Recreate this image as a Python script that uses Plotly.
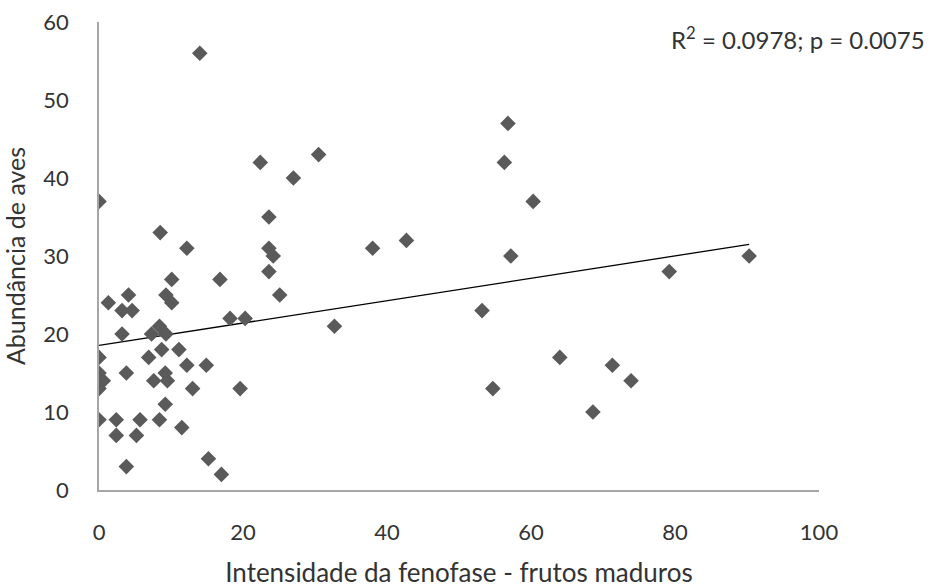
import numpy as np
import plotly.graph_objects as go

# Intensidade da fenofase (frutos maduros) vs. abundância de aves
intensidade = [
    0, 0, 0, 0.6, 0, 0, 1.3, 4.1, 3.2, 4.6, 3.2, 3.8, 2.4, 2.4, 3.8,
    5.7, 5.2, 6.9, 7.3, 8.4, 9.3, 8.7, 7.6, 9.2, 9.5, 9.2, 8.4, 8.5,
    9.3, 10.1, 10.1, 11.1, 11.5, 12.2, 12.2, 13.0, 14.0, 14.9, 15.2,
    16.8, 17.0, 18.2, 19.6, 20.3, 22.4, 23.6, 23.6, 24.2, 23.6, 25.1,
    27.0, 30.5, 32.7, 38.0, 42.7, 53.2, 54.7, 56.3, 56.8, 57.2, 60.3,
    64.0, 68.6, 71.3, 73.9, 79.2, 90.3,
]
abundancia = [
    37, 17, 15, 14, 13, 9, 24, 25, 23, 23, 20, 15, 9, 7, 3,
    9, 7, 17, 20, 21, 20, 18, 14, 15, 14, 11, 9, 33,
    25, 24, 27, 18, 8, 31, 16, 13, 56, 16, 4,
    27, 2, 22, 13, 22, 42, 35, 31, 30, 28, 25,
    40, 43, 21, 31, 32, 23, 13, 42, 47, 30, 37,
    17, 10, 16, 14, 28, 30,
]
x_ticks = [0, 20, 40, 60, 80, 100]
y_ticks = [0, 10, 20, 30, 40, 50, 60]
stat_label = "R<sup>2</sup> = 0.0978; p = 0.0075"

x = np.array(intensidade, dtype=float)
y = np.array(abundancia, dtype=float)
slope, intercept = np.polyfit(x, y, 1)
x_fit = np.array([0.0, x.max()])
y_fit = intercept + slope * x_fit

FONT = "Lato"
TEXT = "#333333"

fig = go.Figure()
fig.add_trace(go.Scatter(
    x=x_fit, y=y_fit, mode="lines",
    line=dict(color="black", width=1.3),
    hoverinfo="skip", showlegend=False,
))
fig.add_trace(go.Scatter(
    x=x, y=y, mode="markers",
    marker=dict(symbol="diamond", size=12, color="#5a5a5a",
                line=dict(width=0)),
    showlegend=False,
))

axis_common = dict(
    showgrid=False, zeroline=False, showline=True, automargin=False,
    linecolor="#a6a6a6", linewidth=1.5, ticks="",
    tickfont=dict(family=FONT, size=22, color=TEXT),
)
fig.update_xaxes(
    range=[0, 100], tickvals=x_ticks, ticklabelstandoff=22,
    title=dict(text="Intensidade da fenofase - frutos maduros",
               font=dict(family=FONT, size=26, color=TEXT), standoff=20),
    **axis_common,
)
fig.update_yaxes(
    range=[0, 60], tickvals=y_ticks, ticklabelstandoff=24,
    title=dict(text="Abundância de aves",
               font=dict(family=FONT, size=25, color=TEXT), standoff=12),
    **axis_common,
)
fig.add_annotation(
    x=1.0, xref="paper", xanchor="right", xshift=108,
    y=1.0, yref="paper", yanchor="middle", yshift=-16,
    text=stat_label, showarrow=False,
    font=dict(family=FONT, size=24, color=TEXT),
)
fig.update_layout(
    width=933, height=588,
    margin=dict(l=99, r=114, t=22, b=98),
    paper_bgcolor="white", plot_bgcolor="white",
)
fig.write_html("out.html")
